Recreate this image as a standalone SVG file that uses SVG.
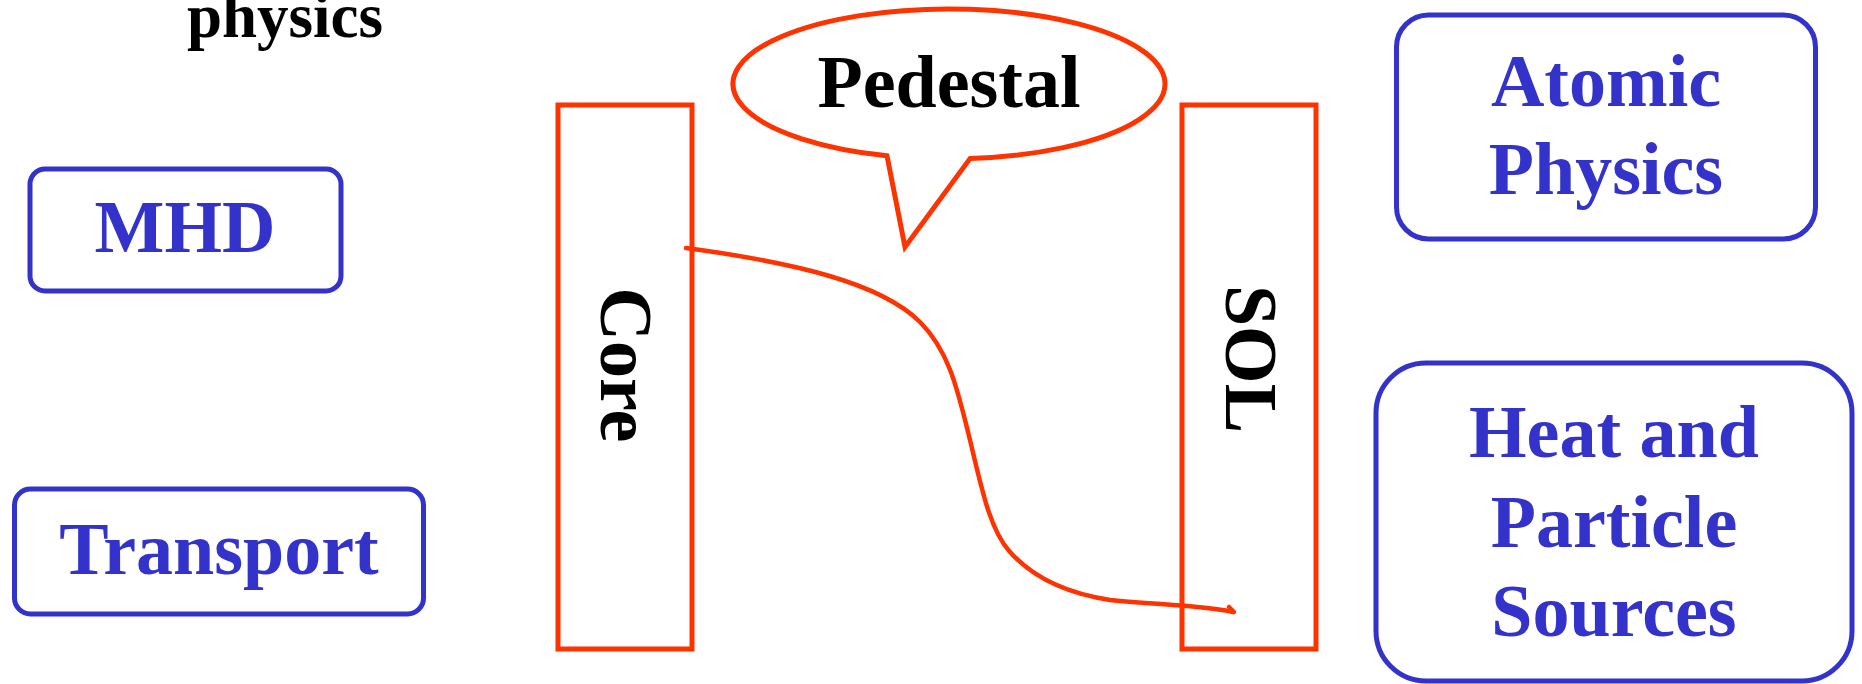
<svg xmlns="http://www.w3.org/2000/svg" width="1862" height="684" viewBox="0 0 1862 684">
  <style>
    .lbl { font-family: "Liberation Serif", "Times New Roman", serif; font-weight: bold; font-size: 74px; }
    .blue { fill: #3333CC; }
    .black { fill: #000000; }
    .box { fill: #FFFFFF; stroke: #3333CC; stroke-width: 5; }
    .region { fill: #FFFFFF; stroke: #FF3300; stroke-width: 5; }
    .flow { fill: none; stroke: #FF3300; stroke-width: 4.5; stroke-linecap: round; stroke-linejoin: round; }
  </style>
  <rect width="1862" height="684" fill="#FFFFFF"/>

  <!-- heading fragment at the top edge -->
  <text class="lbl black" x="285" y="37" text-anchor="middle" style="font-size:63px">physics</text>

  <g id="mhd">
    <rect class="box" x="30" y="169" width="311" height="122" rx="15"/>
    <text class="lbl blue" x="185" y="252" text-anchor="middle">MHD</text>
  </g>

  <g id="transport">
    <rect class="box" x="14.5" y="489" width="409" height="125" rx="16"/>
    <text class="lbl blue" x="219" y="574" text-anchor="middle">Transport</text>
  </g>

  <g id="core">
    <rect class="region" x="558" y="105" width="134" height="544"/>
    <text class="lbl black" transform="translate(601,365) rotate(90)" text-anchor="middle">Core</text>
  </g>

  <g id="sol">
    <rect class="region" x="1182" y="105" width="134" height="544"/>
    <text class="lbl black" transform="translate(1226,359) rotate(90)" text-anchor="middle">SOL</text>
  </g>

  <g id="pedestal">
    <path class="region" d="M 970 158.6 A 216 75 0 1 0 887 155.8 L 905 247 Z"/>
    <text class="lbl black" x="949" y="107" text-anchor="middle">Pedestal</text>
  </g>

  <g id="atomic-physics">
    <rect class="box" x="1396.5" y="15" width="419" height="224" rx="32"/>
    <text class="lbl blue" x="1606" y="106" text-anchor="middle">Atomic</text>
    <text class="lbl blue" x="1606" y="194" text-anchor="middle">Physics</text>
  </g>

  <g id="sources">
    <rect class="box" x="1376" y="363" width="476" height="318" rx="50"/>
    <text class="lbl blue" x="1614" y="457" text-anchor="middle">Heat and</text>
    <text class="lbl blue" x="1614" y="547" text-anchor="middle">Particle</text>
    <text class="lbl blue" x="1614" y="636" text-anchor="middle">Sources</text>
  </g>

  <g id="connectors">
    <!-- S-shaped transport path from the core edge out into the SOL -->
    <path class="flow" d="M 686 248 C 790 262, 880 282, 920 322 C 950 352, 958 392, 970 440 C 982 490, 990 530, 1010 552 C 1035 580, 1070 594, 1110 600 C 1160 605, 1200 605, 1233 612"/>
    <path class="flow" d="M 1229 607 L 1234 612"/>
  </g>
</svg>
